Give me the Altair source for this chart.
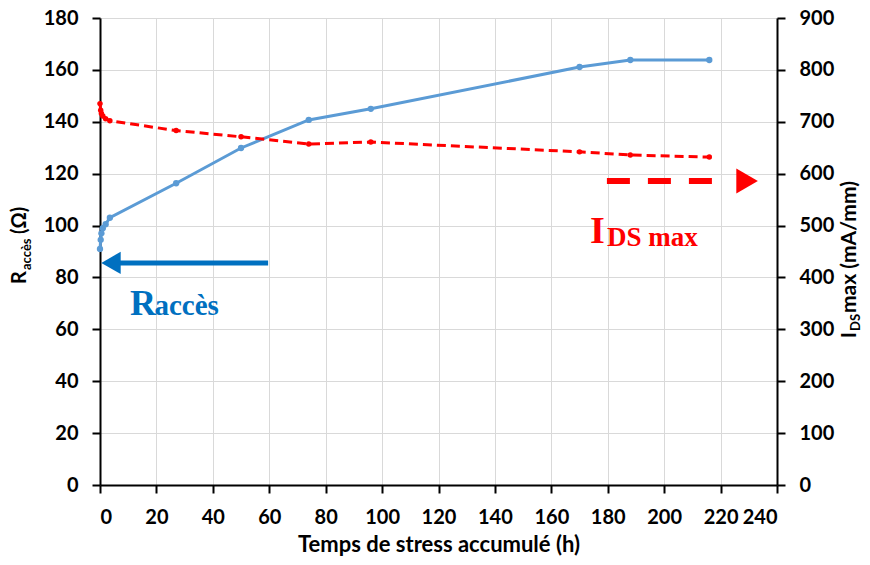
import altair as alt
import pandas as pd

# ---- data ----
t_hours = [0, 0.25, 0.5, 1, 2, 3.5, 27, 50, 74, 96, 170, 188, 216]
r_acces = [91, 94.5, 97, 99, 100.5, 103, 116.3, 129.9, 140.7, 145, 161.1, 163.8, 163.8]
ids_max = [735, 722, 716, 711, 706, 702, 683, 671, 657, 661, 642, 636, 632]

x_ticks = list(range(0, 241, 20))
left_ticks = list(range(0, 181, 20))
right_ticks = list(range(0, 901, 100))

# annotation arrows (in data units of time / left axis)
blue_arrow_t = [59.6, 6.4]
blue_arrow_r = [85.6, 85.6]
blue_head = {"t": [3.9], "R": [85.6]}
red_arrow_t = [179.7, 223.0]
red_arrow_r = [117.2, 117.2]
red_head = {"t": [229.4], "R": [117.2]}

BLUE = "#5B9BD5"
DARKBLUE = "#0070C0"
RED = "#FF0000"

df = pd.DataFrame({"t": t_hours, "R": r_acces, "I": ids_max})

xscale = alt.Scale(domain=[0, 240], nice=False, zero=False)
yscale_left = alt.Scale(domain=[0, 180], nice=False)
yscale_right = alt.Scale(domain=[0, 900], nice=False)

x_axis = alt.Axis(values=x_ticks, title="Temps de stress accumulé (h)", grid=True,
                  labelPadding=14, titlePadding=7, titleFontSize=22,
                  titleFont="Lato", titleFontWeight="bold", titleColor="black")
yl_axis = alt.Axis(values=left_ticks, title=None, grid=True, orient="left", labelPadding=14)
yr_axis = alt.Axis(values=right_ticks, title=None, grid=False, orient="right", labelPadding=14)

X = alt.X("t:Q", scale=xscale, axis=x_axis)
YL = alt.Y("R:Q", scale=yscale_left, axis=yl_axis)
YR = alt.Y("I:Q", scale=yscale_right, axis=yr_axis)

blue_line = alt.Chart(df).mark_line(color=BLUE, strokeWidth=3).encode(x=X, y=YL)
blue_pts = alt.Chart(df).mark_circle(color=BLUE, size=40, opacity=1).encode(x=X, y=YL)

ba = pd.DataFrame({"t": blue_arrow_t, "R": blue_arrow_r})
blue_shaft = alt.Chart(ba).mark_line(color=DARKBLUE, strokeWidth=5).encode(x=X, y=YL)
blue_tip = alt.Chart(pd.DataFrame(blue_head)).mark_point(
    shape="triangle-left", filled=True, color=DARKBLUE, size=500, opacity=1
).encode(x=X, y=YL)

ra = pd.DataFrame({"t": red_arrow_t, "R": red_arrow_r})
red_shaft = alt.Chart(ra).mark_line(color=RED, strokeWidth=6, strokeDash=[23, 18]).encode(x=X, y=YL)
red_tip = alt.Chart(pd.DataFrame(red_head)).mark_point(
    shape="triangle-right", filled=True, color=RED, size=620, opacity=1
).encode(x=X, y=YL)

# in-plot labels
lab = pd.DataFrame({
    "t": [10.6, 19.3, 173.7, 179.7],
    "R": [65.5, 65.5, 93.3, 92.3],
    "txt": ["R", "accès", "I", "DS max"],
    "size": [36, 29, 38, 27],
    "col": [DARKBLUE, DARKBLUE, RED, RED],
})
labels = alt.Chart(lab).mark_text(
    font="Liberation Serif", fontWeight="bold", align="left", baseline="alphabetic"
).encode(
    x=X, y=YL, text="txt:N",
    size=alt.Size("size:Q", scale=None, legend=None),
    color=alt.Color("col:N", scale=None, legend=None),
)

# rotated axis titles with subscripts
one = pd.DataFrame({"a": [0]})
def rtext(txt, x, y, size):
    return alt.Chart(one).mark_text(
        angle=270, align="left", baseline="alphabetic", font="Lato",
        fontWeight="bold", fontSize=size, color="black"
    ).encode(x=alt.value(x), y=alt.value(y), text=alt.value(txt))

left_title = [rtext("R", -74, 266, 20), rtext("accès", -69, 252, 13), rtext("(Ω)", -74, 216, 20)]
right_title = [rtext("I", 756, 320, 20), rtext("DS", 760, 313, 13), rtext("max (mA/mm)", 756, 295, 21)]

left_layer = alt.layer(blue_line, blue_pts, blue_shaft, blue_tip, red_shaft, red_tip, labels,
                       *left_title, *right_title)

red_line = alt.Chart(df).mark_line(color=RED, strokeWidth=3, strokeDash=[9, 5]).encode(x=X, y=YR)
red_pts = alt.Chart(df).mark_circle(color=RED, size=30, opacity=1).encode(x=X, y=YR)
right_layer = alt.layer(red_line, red_pts)

chart = alt.layer(left_layer, right_layer).resolve_scale(y="independent").properties(
    width=677, height=467,
    autosize=alt.AutoSizeParams(type="none"),
    padding={"left": 92, "top": 10, "right": 85, "bottom": 72},
).configure_view(stroke=None).configure_axis(
    labelFont="Lato", labelFontWeight="bold", labelFontSize=20, labelColor="black",
    domainColor="black", domainWidth=2, tickColor="black", tickWidth=2, tickSize=8,
    gridColor="#d9d9d9", gridWidth=1,
)

chart.save("out.html", embed_options={"renderer": "svg", "actions": False})
